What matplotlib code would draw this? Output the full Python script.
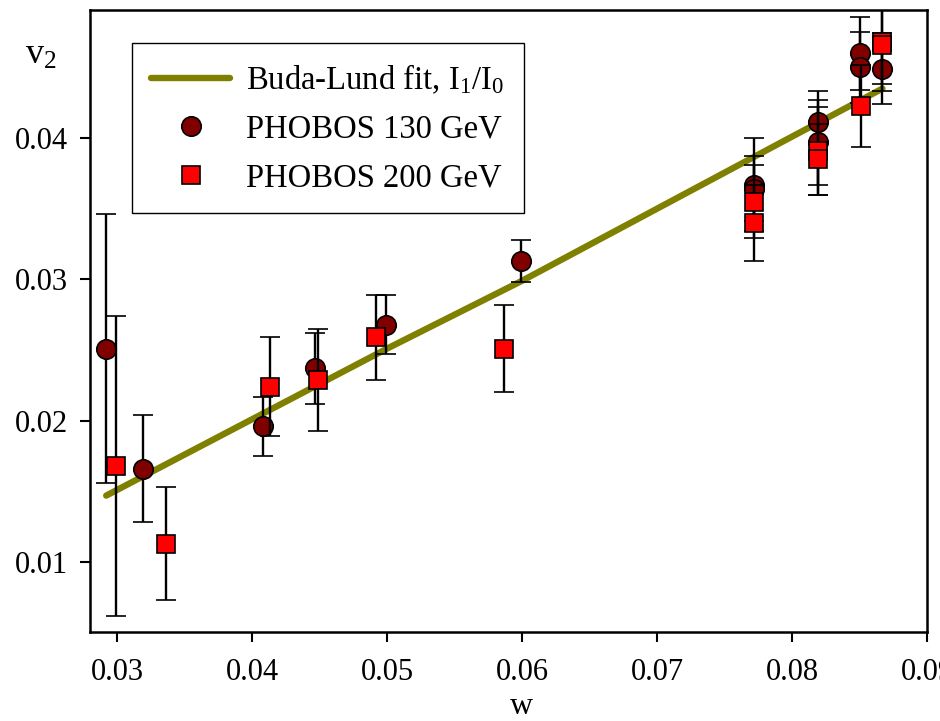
import numpy as np
import matplotlib
matplotlib.use("Agg")
import matplotlib.pyplot as plt

plt.rcParams['font.family'] = ['Liberation Serif', 'DejaVu Serif']
plt.rcParams['mathtext.fontset'] = 'custom'
plt.rcParams['mathtext.rm'] = 'Liberation Serif'
plt.rcParams['mathtext.it'] = 'Liberation Serif:italic'

# Buda-Lund fit curve
w_fit = [0.0292, 0.0400, 0.0500, 0.0600, 0.0700, 0.0800, 0.0867]
v2_fit = [0.0147, 0.0201, 0.0251, 0.0299, 0.0350, 0.0401, 0.0435]

# PHOBOS 130 GeV
w_130 = [0.0292, 0.0319, 0.0408, 0.0447, 0.0499, 0.0599, 0.0772, 0.0772,
         0.0819, 0.0819, 0.0850, 0.0850, 0.0867]
v2_130 = [0.0251, 0.0166, 0.0196, 0.0237, 0.0268, 0.0313, 0.0367, 0.0364,
          0.0411, 0.0397, 0.0460, 0.0450, 0.0449]
err_130 = [0.0095, 0.0038, 0.0021, 0.0025, 0.0021, 0.0015, 0.0033, 0.0023,
           0.0022, 0.0030, 0.0026, 0.0025, 0.0025]

# PHOBOS 200 GeV
w_200 = [0.0299, 0.0336, 0.0413, 0.0449, 0.0492, 0.0587, 0.0772, 0.0772,
         0.0819, 0.0819, 0.0851, 0.0867, 0.0867]
v2_200 = [0.0168, 0.0113, 0.0224, 0.0229, 0.0259, 0.0251, 0.0355, 0.0340,
          0.0391, 0.0385, 0.0423, 0.0468, 0.0466]
err_200 = [0.0106, 0.0040, 0.0035, 0.0036, 0.0030, 0.0031, 0.0026, 0.0027,
           0.0031, 0.0025, 0.0029, 0.0035, 0.0028]

xticks = [0.03, 0.04, 0.05, 0.06, 0.07, 0.08, 0.09]
yticks = [0.01, 0.02, 0.03, 0.04]

fig = plt.figure(figsize=(9.4, 7.21), dpi=100)
ax = fig.add_axes([90/940, 1-632/721, 837/940, 622/721])

ax.plot(w_fit, v2_fit, color='#808000', lw=4.6, solid_capstyle='round',
        zorder=1, label=r'Buda-Lund fit, I$_1$/I$_0$')
ax.errorbar(w_130, v2_130, yerr=err_130, fmt='o', ms=14, mfc='#800000',
            mec='black', mew=1.2, ecolor='black', elinewidth=1.7, capsize=7,
            capthick=1.7, zorder=2, label='PHOBOS 130 GeV')
ax.errorbar(w_200, v2_200, yerr=err_200, fmt='s', ms=13.5, mfc='#ff0000',
            mec='black', mew=1.2, ecolor='black', elinewidth=1.7, capsize=7,
            capthick=1.7, zorder=3, label='PHOBOS 200 GeV')

ax.set_xlim(0.028, 0.09)
ax.set_ylim(0.00505, 0.04906)
ax.set_xticks(xticks)
ax.set_yticks(yticks)
ax.set_xticklabels([f'{t:.2f}' for t in xticks])
ax.set_yticklabels([f'{t:.2f}' for t in yticks])
ax.tick_params(direction='out', length=7, width=1.5, labelsize=22)
ax.tick_params(axis='x', pad=12)
ax.tick_params(axis='y', pad=9)
for s in ax.spines.values():
    s.set_linewidth(1.8)

handles, labels = ax.get_legend_handles_labels()
handles = [handles[0], handles[1][0], handles[2][0]]
leg = ax.legend(handles, labels, loc='upper left', bbox_to_anchor=(0.050, 0.947),
                borderaxespad=0, fontsize=23.5, frameon=True, fancybox=False,
                edgecolor='black', framealpha=1, handlelength=2.4,
                handletextpad=0.5, labelspacing=0.55, borderpad=0.6)
leg.get_frame().set_linewidth(1.0)

fig.text(25/940, 1-55/721, r'v$_2$', fontsize=26, ha='left', va='center')
fig.text(522/940, 1-706/721, 'w', fontsize=23, ha='center', va='center')

fig.savefig('out.png', dpi=100)
